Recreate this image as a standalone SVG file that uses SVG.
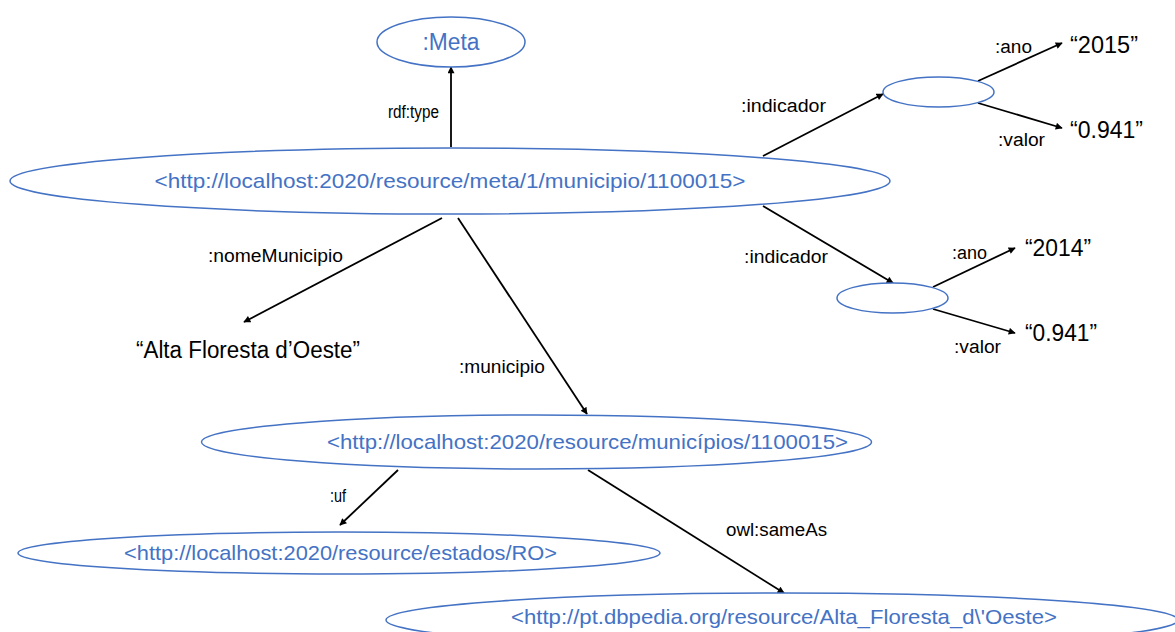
<svg xmlns="http://www.w3.org/2000/svg" width="1175" height="632" viewBox="0 0 1175 632">
<style>
.node{fill:#fff;stroke:#4472C4;stroke-width:1.5}
.uri{font-family:"Liberation Sans",Arial,sans-serif;font-size:21px;fill:#4472C4;text-anchor:middle}
.lbl{font-family:"Liberation Sans",Arial,sans-serif;font-size:18px;fill:#000}
.lit{font-family:"Liberation Sans",Arial,sans-serif;font-size:23px;fill:#000}
.edge{stroke:#000;stroke-width:1.8;fill:none;marker-end:url(#arr)}
</style>
<defs>
<marker id="arr" viewBox="0 0 10 10" refX="9" refY="5" markerWidth="8" markerHeight="7" markerUnits="userSpaceOnUse" orient="auto">
<path d="M0,0 L10,5 L0,10 z" fill="#000"/>
</marker>
</defs>
<rect width="1175" height="632" fill="#fff"/>
<g id="connectors">
<line class="edge" x1="451" y1="147" x2="451" y2="67"/>
<line class="edge" x1="763" y1="156" x2="883" y2="94"/>
<line class="edge" x1="978" y1="81" x2="1062" y2="43"/>
<line class="edge" x1="978" y1="103" x2="1062" y2="128"/>
<line class="edge" x1="763" y1="206" x2="893" y2="283"/>
<line class="edge" x1="933" y1="287" x2="1015" y2="248"/>
<line class="edge" x1="933" y1="309" x2="1015" y2="333"/>
<line class="edge" x1="442" y1="218" x2="244" y2="322"/>
<line class="edge" x1="458" y1="218" x2="587" y2="414"/>
<line class="edge" x1="398" y1="470" x2="340" y2="525"/>
<line class="edge" x1="588" y1="470" x2="784" y2="593"/>
</g>
<g id="edge-labels">
<text class="lbl" x="388" y="118" textLength="51" lengthAdjust="spacingAndGlyphs">rdf:type</text>
<text class="lbl" x="741" y="112" textLength="85" lengthAdjust="spacingAndGlyphs">:indicador</text>
<text class="lbl" x="995" y="53" textLength="37" lengthAdjust="spacingAndGlyphs">:ano</text>
<text class="lbl" x="998" y="146" textLength="47" lengthAdjust="spacingAndGlyphs">:valor</text>
<text class="lbl" x="744" y="263" textLength="84" lengthAdjust="spacingAndGlyphs">:indicador</text>
<text class="lbl" x="952" y="259" textLength="35" lengthAdjust="spacingAndGlyphs">:ano</text>
<text class="lbl" x="954" y="353" textLength="47" lengthAdjust="spacingAndGlyphs">:valor</text>
<text class="lbl" x="208" y="262" textLength="135" lengthAdjust="spacingAndGlyphs">:nomeMunicipio</text>
<text class="lbl" x="459" y="373" textLength="86" lengthAdjust="spacingAndGlyphs">:municipio</text>
<text class="lbl" x="330" y="502" textLength="16" lengthAdjust="spacingAndGlyphs">:uf</text>
<text class="lbl" x="726" y="536" textLength="101" lengthAdjust="spacingAndGlyphs">owl:sameAs</text>
</g>
<g id="meta">
<ellipse class="node" cx="451" cy="42" rx="74" ry="25"/>
<text class="uri" x="451" y="50" style="font-size:23px" textLength="57" lengthAdjust="spacingAndGlyphs">:Meta</text>
</g>
<g id="main">
<ellipse class="node" cx="450" cy="181" rx="440" ry="33"/>
<text class="uri" x="450" y="188" textLength="591" lengthAdjust="spacingAndGlyphs">&lt;http://localhost:2020/resource/meta/1/municipio/1100015&gt;</text>
</g>
<g id="ind1">
<ellipse class="node" cx="938.5" cy="92" rx="55.5" ry="15"/>
</g>
<g id="ind2">
<ellipse class="node" cx="892.5" cy="298" rx="55.5" ry="15"/>
</g>
<g id="lit-2015"><text class="lit" x="1070" y="53" textLength="68" lengthAdjust="spacingAndGlyphs">“2015”</text></g>
<g id="lit-0941a"><text class="lit" x="1070" y="138" textLength="73" lengthAdjust="spacingAndGlyphs">“0.941”</text></g>
<g id="lit-2014"><text class="lit" x="1025" y="256" textLength="66" lengthAdjust="spacingAndGlyphs">“2014”</text></g>
<g id="lit-0941b"><text class="lit" x="1025" y="341" textLength="72" lengthAdjust="spacingAndGlyphs">“0.941”</text></g>
<g id="lit-nome"><text class="lit" x="136" y="358" textLength="224" lengthAdjust="spacingAndGlyphs">“Alta Floresta d’Oeste”</text></g>
<g id="municipios">
<ellipse class="node" cx="536.5" cy="442" rx="335" ry="27"/>
<text class="uri" x="587.5" y="449" textLength="521" lengthAdjust="spacingAndGlyphs">&lt;http://localhost:2020/resource/municípios/1100015&gt;</text>
</g>
<g id="estados">
<ellipse class="node" cx="339" cy="553" rx="321" ry="21"/>
<text class="uri" x="340.5" y="560" textLength="433" lengthAdjust="spacingAndGlyphs">&lt;http://localhost:2020/resource/estados/RO&gt;</text>
</g>
<g id="dbpedia">
<ellipse class="node" cx="782" cy="620" rx="396" ry="27"/>
<text class="uri" x="784" y="624" textLength="546" lengthAdjust="spacingAndGlyphs">&lt;http://pt.dbpedia.org/resource/Alta_Floresta_d\'Oeste&gt;</text>
</g>
</svg>
